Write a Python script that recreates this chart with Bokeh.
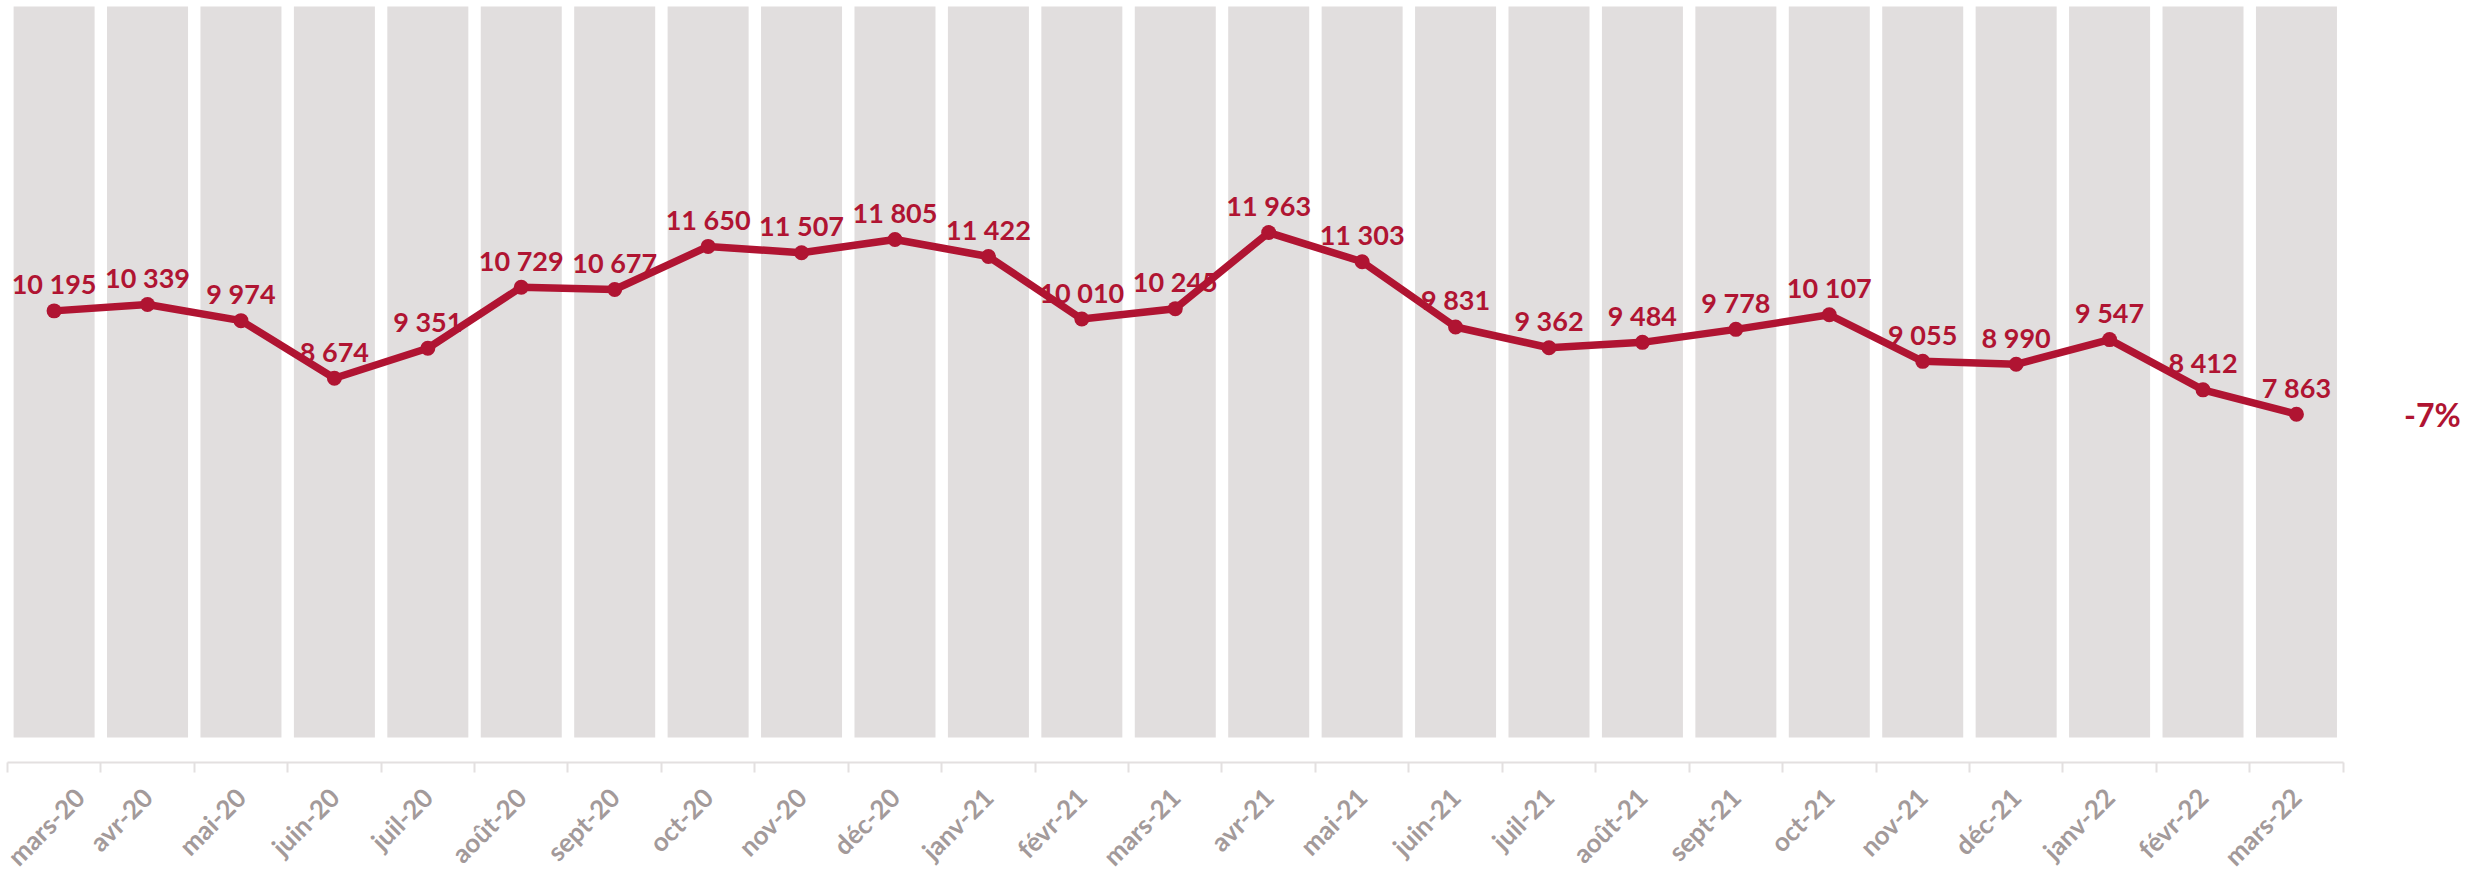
from bokeh.plotting import figure
from bokeh.models import Range1d, FixedTicker, ColumnDataSource
from bokeh.core.properties import value
from bokeh.embed import file_html
from bokeh.resources import INLINE

months = ["mars-20", "avr-20", "mai-20", "juin-20", "juil-20", "août-20", "sept-20",
          "oct-20", "nov-20", "déc-20", "janv-21", "févr-21", "mars-21", "avr-21",
          "mai-21", "juin-21", "juil-21", "août-21", "sept-21", "oct-21", "nov-21",
          "déc-21", "janv-22", "févr-22", "mars-22"]
values = [10195, 10339, 9974, 8674, 9351, 10729, 10677, 11650, 11507, 11805, 11422,
          10010, 10245, 11963, 11303, 9831, 9362, 9484, 9778, 10107, 9055, 8990,
          9547, 8412, 7863]
background = [1, 1, 1, 1, 1, 1, 1, 1, 1, 1, 1, 1, 1, 1, 1, 1, 1, 1, 1, 1, 1, 1, 1, 1, 1]
change_label = "-7%"

CRIMSON = "#B01432"
BAR = "#E1DEDE"
AXIS_TXT = "#A39A9A"
AXIS_LINE = "#E3E0E0"
FONT = "Lato"

idx = list(range(len(months)))
labels = [f"{v:,}".replace(",", " ") for v in values]

src = ColumnDataSource(dict(x=idx, v=values, lab=labels, bg=background))

p = figure(width=2473, height=883,
           min_border_left=0, min_border_right=0, min_border_top=0, min_border_bottom=0,
           x_range=Range1d(-0.5737, 25.895), y_range=Range1d(-2731, 17201),
           y_axis_location=None, output_backend="svg", toolbar_location=None)
p.extra_y_ranges = {"bg": Range1d(-0.1997, 1.0082)}
p.outline_line_color = None
p.xgrid.visible = False
p.ygrid.visible = False
p.background_fill_color = "white"
p.border_fill_color = "white"

p.vbar(x="x", top="bg", bottom=0, width=0.867, source=src, y_range_name="bg",
       fill_color=BAR, line_color=None)

p.line(x="x", y="v", source=src, line_color=CRIMSON, line_width=7.5, line_join="round")
p.scatter(x="x", y="v", source=src, size=15, fill_color=CRIMSON, line_color=None)

p.text(x="x", y="v", text="lab", source=src, text_font=value(FONT), text_font_style="bold",
       text_font_size="27px", text_color=CRIMSON, text_align="center",
       text_baseline="alphabetic", y_offset=-27)

p.text(x=[idx[-1]], y=[values[-1]], text=[change_label], text_font=value(FONT),
       text_font_style="bold", text_font_size="32px", text_color=CRIMSON,
       text_align="center", text_baseline="alphabetic", x_offset=136, y_offset=0)

ax = p.xaxis[0]
ax.fixed_location = 0
ax.ticker = FixedTicker(ticks=idx, minor_ticks=[i - 0.5 for i in idx] + [idx[-1] + 0.5])
ax.major_label_overrides = {i: m for i, m in zip(idx, months)}
ax.bounds = (-0.5, idx[-1] + 0.5)
ax.major_label_orientation = 0.785398
ax.major_label_text_font = FONT
ax.major_label_text_font_style = "bold"
ax.major_label_text_font_size = "26px"
ax.major_label_text_color = AXIS_TXT
ax.major_label_standoff = 20
ax.major_tick_out = 0
ax.major_tick_in = 0
ax.minor_tick_out = 10
ax.minor_tick_in = 0
ax.minor_tick_line_color = AXIS_LINE
ax.minor_tick_line_width = 2
ax.axis_line_color = AXIS_LINE
ax.axis_line_width = 2

open("out.html", "w").write(file_html(p, INLINE))
